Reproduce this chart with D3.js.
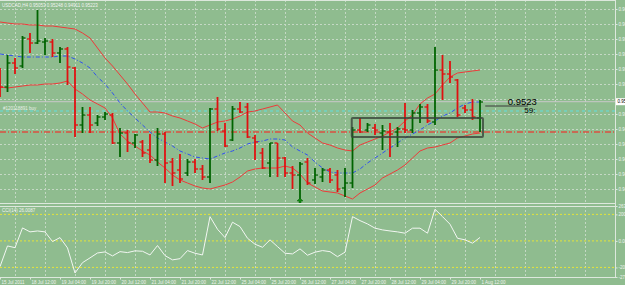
<!DOCTYPE html>
<html>
<head>
<meta charset="utf-8">
<script src="https://cdn.jsdelivr.net/npm/d3@7"></script>
<style>
body { margin: 0; background: #8fbc8f; }
svg { display: block; font-family: "Liberation Sans", Arial, sans-serif; }
</style>
</head>
<body>
<div id="chart"></div>
<script>
// bar index -1 .. 63 (4h bars, USDCAD)
var bars = d3.range(-1, 64);

var open = [0.9554,0.9537,0.9561,0.9558,0.9585,0.9581,0.9582,0.9582,0.9571,0.9575,0.9556,0.9499,0.9509,0.9501,0.9507,0.9509,0.9481,
  0.9491,0.9481,0.9482,0.9474,0.9464,0.9490,0.9462,0.9454,0.9451,0.9462,0.9455,0.9447,0.9515,0.9493,0.9484,0.9515,0.9517,0.9486,
  0.9471,0.9461,0.9481,0.9466,0.9451,0.9449,0.9462,0.9444,0.9447,0.9454,0.9449,0.9436,0.9441,0.9494,0.9494,0.9496,0.9491,0.9492,
  0.9492,0.9495,0.9494,0.9511,0.9517,0.9502,0.9554,0.9550,0.9544,0.9516,0.9514,0.9506];
var high = [0.9556,0.9569,0.9566,0.9588,0.9591,0.9614,0.9586,0.9585,0.9577,0.9577,0.9557,0.9517,0.9517,0.9509,0.9512,0.9511,0.9496,
  0.9494,0.9490,0.9484,0.9490,0.9496,0.9492,0.9466,0.9470,0.9465,0.9465,0.9459,0.9516,0.9527,0.9501,0.9518,0.9522,0.9521,0.9489,
  0.9476,0.9481,0.9481,0.9467,0.9458,0.9462,0.9466,0.9456,0.9456,0.9456,0.9454,0.9456,0.9497,0.9506,0.9501,0.9500,0.9499,0.9501,
  0.9497,0.9521,0.9514,0.9520,0.9520,0.9577,0.9569,0.9563,0.9545,0.9519,0.9525,0.9524];
var low = [0.9527,0.9532,0.9550,0.9556,0.9571,0.9580,0.9569,0.9567,0.9561,0.9539,0.9487,0.9491,0.9491,0.9498,0.9504,0.9480,0.9467,
  0.9472,0.9476,0.9467,0.9461,0.9458,0.9441,0.9438,0.9441,0.9448,0.9451,0.9444,0.9441,0.9493,0.9477,0.9483,0.9511,0.9486,0.9464,
  0.9455,0.9447,0.9447,0.9447,0.9435,0.9424,0.9439,0.9440,0.9442,0.9441,0.9432,0.9427,0.9436,0.9491,0.9492,0.9489,0.9474,0.9467,
  0.9477,0.9491,0.9491,0.9501,0.9501,0.9499,0.9524,0.9541,0.9507,0.9511,0.9504,0.9492];
var close = [0.9537,0.9561,0.9556,0.9586,0.9581,0.9583,0.9583,0.9571,0.9575,0.9557,0.9499,0.9509,0.9499,0.9507,0.9510,0.9481,0.9491,
  0.9481,0.9489,0.9471,0.9464,0.9490,0.9461,0.9451,0.9445,0.9462,0.9455,0.9447,0.9515,0.9495,0.9478,0.9515,0.9512,0.9487,0.9482,
  0.9456,0.9481,0.9466,0.9451,0.9449,0.9460,0.9441,0.9449,0.9454,0.9444,0.9435,0.9441,0.9494,0.9492,0.9499,0.9494,0.9493,0.9490,
  0.9495,0.9494,0.9511,0.9517,0.9503,0.9554,0.9550,0.9547,0.9509,0.9514,0.9507,0.9522];

// bollinger style envelope
var upper = [0.9602,0.9601,0.9600,0.9600,0.9599,0.9599,0.9598,0.9598,0.9597,0.9596,0.9595,0.9591,0.9586,0.9576,0.9566,0.9558,0.9549,
  0.9540,0.9530,0.9521,0.9512,0.9512,0.9511,0.9508,0.9506,0.9503,0.9500,0.9496,0.9499,0.9502,0.9503,0.9505,0.9508,0.9512,0.9513,
  0.9515,0.9517,0.9519,0.9511,0.9503,0.9499,0.9491,0.9486,0.9481,0.9479,0.9476,0.9474,0.9473,0.9479,0.9482,0.9485,0.9488,0.9492,
  0.9496,0.9503,0.9509,0.9520,0.9526,0.9530,0.9539,0.9547,0.9551,0.9552,0.9553,0.9554];
var middle = [0.9570,0.9569,0.9568,0.9567,0.9567,0.9567,0.9567,0.9567,0.9568,0.9568,0.9565,0.9561,0.9556,0.9547,0.9540,0.9531,0.9521,
  0.9513,0.9506,0.9499,0.9492,0.9486,0.9482,0.9478,0.9473,0.9470,0.9467,0.9466,0.9465,0.9468,0.9471,0.9473,0.9476,0.9480,0.9482,
  0.9483,0.9485,0.9485,0.9484,0.9477,0.9473,0.9469,0.9462,0.9456,0.9452,0.9451,0.9451,0.9451,0.9455,0.9461,0.9466,0.9471,0.9476,
  0.9481,0.9486,0.9490,0.9494,0.9499,0.9503,0.9508,0.9511,0.9516,0.9520,0.9522,0.9522];
var lower = [0.9537,0.9536,0.9537,0.9538,0.9539,0.9539,0.9540,0.9540,0.9541,0.9543,0.9535,0.9530,0.9524,0.9520,0.9516,0.9506,0.9490,
  0.9483,0.9478,0.9473,0.9469,0.9462,0.9456,0.9449,0.9444,0.9441,0.9438,0.9436,0.9435,0.9437,0.9439,0.9442,0.9447,0.9453,0.9455,
  0.9456,0.9456,0.9456,0.9458,0.9456,0.9450,0.9441,0.9437,0.9433,0.9432,0.9431,0.9428,0.9425,0.9431,0.9435,0.9439,0.9446,0.9450,
  0.9454,0.9459,0.9466,0.9473,0.9476,0.9477,0.9479,0.9481,0.9486,0.9488,0.9490,0.9491];

var cci = [-194,-38,-51,98,68,75,68,-5,25,-53,-242,-164,-128,-91,-83,-113,-81,-88,-75,-78,-106,-35,-111,-143,-134,-73,-93,-106,
  183,88,25,141,108,20,-25,-48,8,-43,-93,-98,-60,-108,-85,-73,-81,-119,-85,183,153,128,96,83,75,68,58,96,96,58,239,183,126,20,8,-17,26.0087];

var timeLabels = ["15 Jul 2011","18 Jul 12:00","19 Jul 04:00","19 Jul 20:00","20 Jul 12:00","21 Jul 04:00","21 Jul 20:00",
  "22 Jul 12:00","25 Jul 04:00","25 Jul 20:00","26 Jul 12:00","27 Jul 04:00","27 Jul 20:00","28 Jul 12:00","29 Jul 04:00",
  "29 Jul 20:00","1 Aug 12:00"];
var labelBars = d3.range(-1, 64, 4);
var priceTicks = [0.9615,0.9600,0.9585,0.9570,0.9555,0.9540,0.9525,0.9510,0.9495,0.9480,0.9465,0.9450,0.9435];
var cciTicks = [263.23, 200, 0, -200, -272.18];
var cciLevels = [200, 0, -200];

var bid = 0.95223, buyLevel = 0.9513, stopLevel = 0.9492;

var W = 625, H = 285;
var svg = d3.select("#chart").append("svg").attr("width", W).attr("height", H);
svg.append("rect").attr("width", W).attr("height", H).attr("fill", "#8fbc8f");

var x = d3.scaleLinear().domain([-1, 63]).range([0, 480]);
var y = d3.scaleLinear().domain([0.9420, 0.9624]).range([204, 0]);
var yc = d3.scaleLinear().domain([-272.18, 263.23]).range([277, 206]);

var defs = svg.append("defs");
defs.append("clipPath").attr("id", "clipMain").append("rect").attr("x", 0).attr("y", 1).attr("width", 615).attr("height", 202);
defs.append("clipPath").attr("id", "clipSub").append("rect").attr("x", 0).attr("y", 207).attr("width", 615).attr("height", 70);

var main = svg.append("g").attr("clip-path", "url(#clipMain)");
var sub = svg.append("g").attr("clip-path", "url(#clipSub)");

// grid
var gridBars = d3.range(1, 80, 4);
var gridCol = "#c4d8c4";
main.selectAll(".vg").data(gridBars).enter().append("line")
  .attr("x1", d => x(d) + 0.5).attr("x2", d => x(d) + 0.5).attr("y1", 0).attr("y2", 204)
  .attr("stroke", gridCol).attr("stroke-dasharray", "2,2");
sub.selectAll(".vg").data(gridBars).enter().append("line")
  .attr("x1", d => x(d) + 0.5).attr("x2", d => x(d) + 0.5).attr("y1", 206).attr("y2", 277)
  .attr("stroke", gridCol).attr("stroke-dasharray", "2,2");
main.selectAll(".hg").data(priceTicks).enter().append("line")
  .attr("x1", 0).attr("x2", 615).attr("y1", d => Math.round(y(d)) + 0.5).attr("y2", d => Math.round(y(d)) + 0.5)
  .attr("stroke", gridCol).attr("stroke-dasharray", "2,2");

// bid line
main.append("line").attr("x1", 0).attr("x2", 615).attr("y1", y(bid)).attr("y2", y(bid))
  .attr("stroke", "#c8c8c8").attr("stroke-width", 1);

// order lines
main.append("line").attr("x1", 0).attr("x2", 615).attr("y1", y(buyLevel)).attr("y2", y(buyLevel))
  .attr("stroke", "#5fe0e0").attr("stroke-dasharray", "3,3");
main.append("line").attr("x1", 0).attr("x2", 615).attr("y1", y(stopLevel)).attr("y2", y(stopLevel))
  .attr("stroke", "#ff1a1a").attr("stroke-width", 1.2).attr("stroke-dasharray", "6,2,1,2");
main.append("text").attr("x", 3).attr("y", y(buyLevel) - 1.5).attr("fill", "#e8f0e8")
  .style("font-size", "4.5px").text("#120118891 buy");

// bands
function bandLine(arr) {
  return d3.line().x((d, i) => x(bars[i])).y(d => y(d))(arr);
}
main.append("path").attr("d", bandLine(upper)).attr("fill", "none").attr("stroke", "#ee3a3a").attr("stroke-width", 1);
main.append("path").attr("d", bandLine(lower)).attr("fill", "none").attr("stroke", "#ee3a3a").attr("stroke-width", 1);
main.append("path").attr("d", bandLine(middle)).attr("fill", "none").attr("stroke", "#3050f0")
  .attr("stroke-width", 1).attr("stroke-dasharray", "4,2,1,2");

// bars
var barData = bars.map((k, i) => ({k: k, o: open[i], h: high[i], l: low[i], c: close[i]}));
var bg = main.selectAll(".bar").data(barData).enter().append("g")
  .attr("stroke", d => d.c >= d.o ? "#006400" : "#e01010");
bg.append("line").attr("x1", d => x(d.k)).attr("x2", d => x(d.k))
  .attr("y1", d => y(d.h)).attr("y2", d => y(d.l)).attr("stroke-width", 1.8);
bg.append("line").attr("x1", d => x(d.k) - 3).attr("x2", d => x(d.k))
  .attr("y1", d => y(d.o)).attr("y2", d => y(d.o)).attr("stroke-width", 1.3);
bg.append("line").attr("x1", d => x(d.k)).attr("x2", d => x(d.k) + 3)
  .attr("y1", d => y(d.c)).attr("y2", d => y(d.c)).attr("stroke-width", 1.3);

// box object
var box = {k0: 45.9, k1: 63.4, p0: 0.9506, p1: 0.9487};
main.append("rect").attr("x", x(box.k0)).attr("y", y(box.p0))
  .attr("width", x(box.k1) - x(box.k0)).attr("height", y(box.p1) - y(box.p0))
  .attr("fill", "none").attr("stroke", "#38453a").attr("stroke-opacity", 0.8).attr("stroke-width", 2).attr("rx", 1);

// buy arrow
var arrow = {k: 39, p: 0.9426};
main.append("path")
  .attr("d", "M" + x(arrow.k) + "," + y(arrow.p) + " l3,3 h-2 v4 h-2 v-4 h-2 z")
  .attr("fill", "#108a10").attr("stroke", "#0a600a").attr("stroke-width", 0.5);

// text objects
var note = {k0: 63.7, k1: 69.4, p: 0.9518};
main.append("line").attr("x1", x(note.k0)).attr("x2", x(note.k1)).attr("y1", y(note.p)).attr("y2", y(note.p))
  .attr("stroke", "#3a3a3a").attr("stroke-width", 1);
main.append("text").attr("x", x(66.7)).attr("y", y(0.9519)).attr("fill", "#000")
  .style("font-size", "9.5px").text("0.9523");
main.append("text").attr("x", x(68.9)).attr("y", y(0.9511)).attr("fill", "#000")
  .style("font-size", "8px").text("59:");

// title
svg.append("text").attr("x", 2).attr("y", 6.5).attr("fill", "#f0f4f0").style("font-size", "4.5px")
  .text("USDCAD,H4  0.95053 0.95248 0.94911 0.95223");

// CCI window
sub.selectAll(".lvl").data(cciLevels).enter().append("line")
  .attr("x1", 0).attr("x2", 615).attr("y1", d => yc(d)).attr("y2", d => yc(d))
  .attr("stroke", "#e4e43a").attr("stroke-dasharray", "2,2");
sub.append("path")
  .attr("d", d3.line().x((d, i) => x(bars[i])).y(d => yc(d))(cci))
  .attr("fill", "none").attr("stroke", "#f2f6f2").attr("stroke-width", 1);
svg.append("text").attr("x", 2).attr("y", 212).attr("fill", "#f0f4f0").style("font-size", "4.5px")
  .text("CCI(14) 26.0087");

// frames
var frameCol = "#dde8dd";
[[0, 615, 0.5, 0.5], [0, 615, 203.5, 203.5], [0, 615, 206.5, 206.5], [0, 615, 277.5, 277.5]].forEach(function (l) {
  svg.append("line").attr("x1", l[0]).attr("x2", l[1]).attr("y1", l[2]).attr("y2", l[3]).attr("stroke", frameCol);
});
svg.append("line").attr("x1", 615.5).attr("x2", 615.5).attr("y1", 0).attr("y2", 278).attr("stroke", frameCol);

// axes (scale labels run off the window edge, as in the terminal)
var yAxis = svg.append("g").attr("transform", "translate(615.5,0)")
  .call(d3.axisRight(y).tickValues(priceTicks).tickSize(2).tickPadding(1).tickFormat(d3.format(".5f")));
var cAxis = svg.append("g").attr("transform", "translate(615.5,0)")
  .call(d3.axisRight(yc).tickValues(cciTicks).tickSize(2).tickPadding(1).tickFormat(d => d === 0 ? "0.00" : String(d)));
var xAxis = svg.append("g").attr("transform", "translate(0,277.5)")
  .call(d3.axisBottom(x).tickValues(labelBars).tickSize(2).tickPadding(1).tickFormat((d, i) => timeLabels[i]));
[yAxis, cAxis, xAxis].forEach(function (g) {
  g.select(".domain").remove();
  g.selectAll("line").attr("stroke", frameCol);
  g.selectAll("text").attr("fill", "#f0f4f0").style("font-size", "4.5px").style("font-family", "Liberation Sans, Arial, sans-serif");
});
xAxis.selectAll("text").attr("text-anchor", "start").attr("dx", "1");
// the price marker covers the nearest scale label
yAxis.selectAll(".tick").filter(d => Math.abs(y(d) - y(bid)) < 6).select("text").remove();

// current price marker on the scale
svg.append("rect").attr("x", 616).attr("y", y(bid) - 3.5).attr("width", 12).attr("height", 7).attr("fill", "#ffffff");
svg.append("text").attr("x", 617.5).attr("y", y(bid) + 1.7).attr("fill", "#000").style("font-size", "4.5px").text("0.95223");
</script>
</body>
</html>
